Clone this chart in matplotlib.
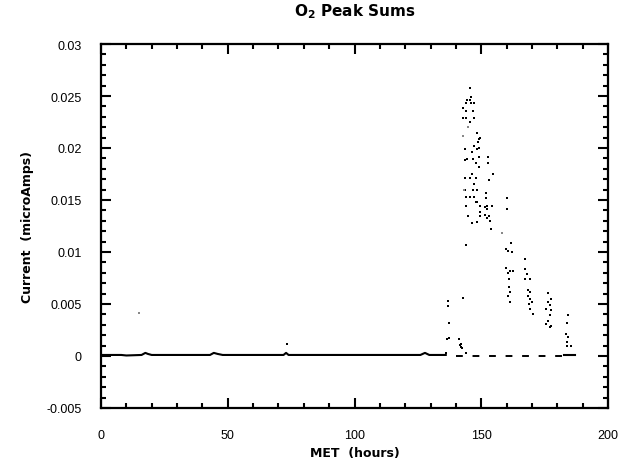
import numpy as np
import matplotlib.pyplot as plt
from matplotlib.ticker import MultipleLocator

# baseline trace (solid part, MET hours vs current)
base_met = [0, 8, 10, 16, 17.5, 18.5, 20, 43, 44.5, 46, 48, 72, 73, 74, 126, 127.8, 129.5, 136]
base_cur = [0.0001, 0.0001, 0.00005, 0.0001, 0.0003, 0.0002, 0.0001, 0.0001, 0.0003, 0.0002,
            0.0001, 0.0001, 0.0003, 0.0001, 0.0001, 0.0003, 0.0001, 0.0001]
gap_met = [140, 182]
gap_cur = [0.0, 0.0]
tail_met = [182.5, 187]
tail_cur = [0.0001, 0.0001]

# peak sum samples
met = [145.6, 145.8, 144.3, 145.6, 143.8, 145.8, 147.0, 142.7, 144.0, 146.8, 142.7, 144.0, 147.1,
       145.6, 148.4, 149.5, 149.3, 148.9, 147.1, 149.3, 148.4, 143.6, 146.2, 149.3, 152.8, 144.5,
       146.6, 143.4, 147.8, 152.8, 149.0, 146.2, 154.6, 143.4, 145.6, 148.0, 153.2, 147.1, 143.4,
       146.6, 148.4, 152.0, 143.8, 145.4, 147.1, 151.9, 160.0, 148.0, 144.0, 149.5, 152.4, 154.3,
       148.3, 149.6, 151.6, 152.2, 152.9, 153.5, 152.4, 151.6, 144.9, 146.2, 148.3, 153.8, 149.6,
       144.0, 160.0, 161.7, 159.8, 160.7, 162.0, 162.4, 159.8, 160.4, 161.2, 160.9, 161.0, 161.2,
       160.7, 161.3, 167.3, 167.1, 167.9, 169.2, 167.3, 168.6, 169.4, 169.2, 169.9, 168.6, 170.3,
       169.2, 168.8, 176.4, 177.7, 176.4, 177.1, 175.5, 177.7, 177.1, 176.4, 177.7, 175.5, 177.1,
       184.3, 184.0, 183.4, 184.3, 184.0, 183.7, 185.6, 137.0, 137.0, 137.2, 137.2, 136.0, 141.2,
       141.9, 142.2, 141.6, 142.5, 142.7, 144.0, 73.2, 136.6]
cur = [0.0258, 0.0249, 0.0246, 0.0246, 0.0243, 0.0243, 0.0243, 0.0238, 0.0236, 0.0236, 0.0229,
       0.0229, 0.0229, 0.0225, 0.0214, 0.0210, 0.0209, 0.0206, 0.0202, 0.0200, 0.0199, 0.0199,
       0.0196, 0.0191, 0.0191, 0.0189, 0.0189, 0.0188, 0.0186, 0.0186, 0.0182, 0.0175, 0.0175,
       0.0171, 0.0171, 0.0171, 0.0169, 0.0165, 0.0160, 0.0160, 0.0160, 0.0157, 0.0153, 0.0153,
       0.0153, 0.0152, 0.0152, 0.0148, 0.0144, 0.0144, 0.0144, 0.0144, 0.0148, 0.0138, 0.0143,
       0.0141, 0.0135, 0.0130, 0.0133, 0.0136, 0.0135, 0.0128, 0.0129, 0.0122, 0.0135, 0.0107,
       0.0141, 0.0109, 0.0103, 0.0101, 0.0100, 0.0082, 0.0085, 0.0080, 0.0082, 0.0074, 0.0066,
       0.0062, 0.0058, 0.0052, 0.0093, 0.0084, 0.0079, 0.0074, 0.0074, 0.0063, 0.0062, 0.0055,
       0.0052, 0.0058, 0.0040, 0.0045, 0.0050, 0.0061, 0.0055, 0.0052, 0.0049, 0.0045, 0.0044,
       0.0039, 0.0034, 0.0029, 0.0031, 0.0028, 0.0039, 0.0032, 0.0021, 0.0018, 0.0013, 0.0010,
       0.0010, 0.0053, 0.0048, 0.0032, 0.0017, 0.0003, 0.0016, 0.0012, 0.0009, 0.0011, 0.0008,
       0.0056, 0.0003, 0.0012, 0.0016]
# faint (light grey) samples
faint_met = [15.1, 142.7, 144.8, 158.0, 143.0]
faint_cur = [0.0041, 0.0212, 0.0220, 0.0118, 0.0160]

fig = plt.figure(figsize=(6.19, 4.64), dpi=100)
ax = fig.add_axes([101 / 619, 55 / 464, 507 / 619, 364 / 464])

ax.plot(base_met, base_cur, color='black', lw=1.5)
ax.plot(gap_met, gap_cur, color='black', lw=1.4, linestyle=(0, (3.5, 5)))
ax.plot(tail_met, tail_cur, color='black', lw=1.5)
ax.scatter(met, cur, s=3, marker='s', color='black', linewidths=0)
ax.scatter(faint_met, faint_cur, s=2, marker='s', color='#888888', linewidths=0)

ax.set_xlim(0, 200)
ax.set_ylim(-0.005, 0.03)
ax.xaxis.set_major_locator(MultipleLocator(50))
ax.xaxis.set_minor_locator(MultipleLocator(10))
ax.yaxis.set_major_locator(MultipleLocator(0.005))
ax.yaxis.set_minor_locator(MultipleLocator(0.001))
ax.set_yticks([-0.005, 0, 0.005, 0.01, 0.015, 0.02, 0.025, 0.03])
ax.set_yticklabels(['-0.005', '0', '0.005', '0.01', '0.015', '0.02', '0.025', '0.03'])
ax.tick_params(which='both', direction='in', top=True, right=True, width=1.5,
               labelsize=9, pad=14)
ax.tick_params(axis='x', pad=15)
ax.tick_params(which='major', length=7)
ax.tick_params(which='minor', length=3.5)
for sp in ax.spines.values():
    sp.set_linewidth(1.6)
for lbl in ax.get_xticklabels() + ax.get_yticklabels():
    lbl.set_family('Liberation Sans')

ax.set_title(r'$\mathbf{O_2}$ Peak Sums', fontsize=11, fontweight='bold', pad=21,
             family='DejaVu Sans')
ax.set_xlabel('MET  (hours)', fontsize=9, fontweight='bold', labelpad=4,
              family='DejaVu Sans')
ax.set_ylabel('Current  (microAmps)', fontsize=9, fontweight='bold', labelpad=9,
              family='DejaVu Sans')

fig.savefig('out.png', dpi=100)
